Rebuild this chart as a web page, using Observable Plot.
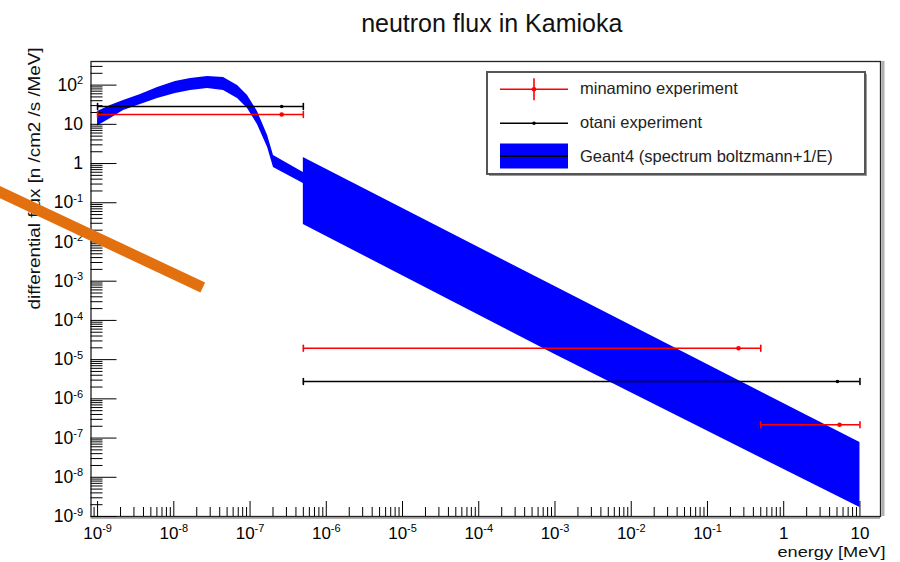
<!DOCTYPE html>
<html>
<head>
<meta charset="utf-8">
<script src="https://cdn.jsdelivr.net/npm/d3@7"></script>
<script src="https://cdn.jsdelivr.net/npm/@observablehq/plot@0.6"></script>
<style>
  html, body { margin: 0; padding: 0; background: #fff; }
  #wrap { position: relative; width: 900px; height: 562px; font-family: "Liberation Sans", Arial, sans-serif; }
  #legend { position: absolute; left: 0; top: 0; pointer-events: none; }
</style>
</head>
<body>
<div id="wrap"></div>
<script>
// ---------- texts ----------
const chartTitle = "neutron flux in Kamioka";
const xTitle = "energy [MeV]";
const yTitle = "differential flux [n /cm2 /s /MeV]";
const legendLabels = ["minamino experiment", "otani experiment", "Geant4 (spectrum boltzmann+1/E)"];

// ---------- axes ----------
const xDomain = [8.2e-10, 18.6];
const yDomain = [1e-9, 400];
const xTicks = [1e-9, 1e-8, 1e-7, 1e-6, 1e-5, 1e-4, 1e-3, 1e-2, 1e-1, 1, 10];
const xTickLabels = ["10^-9", "10^-8", "10^-7", "10^-6", "10^-5", "10^-4", "10^-3", "10^-2", "10^-1", "1", "10"];
const yTicks = [1e-9, 1e-8, 1e-7, 1e-6, 1e-5, 1e-4, 1e-3, 1e-2, 1e-1, 1, 10, 100];
const yTickLabels = ["10^-9", "10^-8", "10^-7", "10^-6", "10^-5", "10^-4", "10^-3", "10^-2", "10^-1", "1", "10", "10^2"];

// ---------- Geant4 band (energy [MeV], upper and lower flux) ----------
const g4Energy = [1e-9, 1.48e-9, 2.19e-9, 3.66e-9, 6.12e-9, 1.05e-8, 1.66e-8, 2.77e-8, 4.49e-8, 6.85e-8, 9.27e-8, 1.25e-7, 1.70e-7, 2.03e-7, 5e-7, 5e-7, 1e-3, 10];
const g4Upper  = [21.2, 30.1, 40.4, 57.5, 86.7, 123, 147, 165.6, 156, 97.5, 54.2, 21.2, 5.18, 1.60, 0.59, 1.42, 7.3e-4, 7.7e-8];
const g4Lower  = [9.0, 14.1, 22.5, 32.0, 45.5, 61.0, 72.8, 81.8, 72.8, 45.5, 25.3, 9.9, 2.56, 0.79, 0.31, 0.0279, 1.35e-5, 1.69e-9];

// ---------- minamino experiment ----------
const minaminoE     = [2.6e-7, 0.255, 5.4];
const minaminoELow  = [1e-9, 5e-7, 0.5];
const minaminoEHigh = [5e-7, 0.5, 10];
const minaminoFlux  = [17.8, 1.95e-5, 2.18e-7];

// ---------- otani experiment ----------
const otaniE     = [2.6e-7, 5.07];
const otaniELow  = [1e-9, 5e-7];
const otaniEHigh = [5e-7, 10];
const otaniFlux  = [28.4, 2.77e-6];

// ---------- orange annotation stroke ----------
const annotationE    = [4e-11, 2.4e-8];
const annotationFlux = [0.24, 6.9e-4];

// ---------- build tables ----------
const band = g4Energy.map((e, i) => ({e, lo: g4Lower[i], hi: g4Upper[i]}));
const minData = minaminoE.map((e, i) => ({e, lo: minaminoELow[i], hi: minaminoEHigh[i], f: minaminoFlux[i]}));
const otaData = otaniE.map((e, i) => ({e, lo: otaniELow[i], hi: otaniEHigh[i], f: otaniFlux[i]}));
const annotation = annotationE.map((e, i) => ({e, f: annotationFlux[i]}));

function minorTicks([lo, hi]) {
  const out = [];
  for (let p = -11; p <= 3; p++) for (let m = 2; m <= 9; m++) {
    const v = m * Math.pow(10, p);
    if (v > lo && v < hi) out.push(v);
  }
  return out;
}
const xMinor = minorTicks(xDomain);
const yMinor = minorTicks(yDomain);

const capShape = {draw(ctx, l) { ctx.moveTo(0, -l / 2); ctx.lineTo(0, l / 2); }};
const fmtX = d => xTickLabels[xTicks.indexOf(d)];
const fmtY = d => yTickLabels[yTicks.indexOf(d)];

function errorMarks(data, color, r) {
  return [
    Plot.ruleY(data, {y: "f", x1: "lo", x2: "hi", stroke: color, strokeWidth: 1.6}),
    Plot.vector(data, {x: "lo", y: "f", length: 6, anchor: "start", shape: capShape, stroke: color, strokeWidth: 1.6}),
    Plot.vector(data, {x: "hi", y: "f", length: 6, anchor: "start", shape: capShape, stroke: color, strokeWidth: 1.6}),
    Plot.dot(data, {x: "e", y: "f", r, fill: color, stroke: "none"})
  ];
}

const svg = Plot.plot({
  width: 900,
  height: 562,
  marginTop: 61,
  marginLeft: 90.5,
  marginRight: 20,
  marginBottom: 46,
  style: {fontFamily: "'Liberation Sans', Arial, sans-serif", background: "#fff", color: "#000"},
  x: {type: "log", domain: xDomain},
  y: {type: "log", domain: yDomain},
  marks: [
    Plot.areaY(band, {x: "e", y1: "lo", y2: "hi", fill: "#0000ff", curve: "linear"}),
    Plot.ruleX([xDomain[1]], {stroke: "#b0b0b0", strokeWidth: 3, dx: 2.5}),
    Plot.ruleY([yDomain[0]], {stroke: "#b0b0b0", strokeWidth: 2, dy: 1.5}),
    Plot.frame({stroke: "#222", strokeWidth: 1.3}),
    Plot.axisX(xMinor, {tickSize: 9, dy: -9, fill: "none", label: null}),
    Plot.axisX(xTicks, {tickSize: 15, dy: -15, fill: "none", label: null}),
    Plot.axisX(xTicks, {tickSize: 0, tickPadding: 10, stroke: "none", tickFormat: fmtX, fontSize: 17, label: null}),
    Plot.axisY(yMinor, {tickSize: 12, dx: 12, fill: "none", label: null}),
    Plot.axisY(yTicks, {tickSize: 26, dx: 26, fill: "none", label: null}),
    Plot.axisY(yTicks, {tickSize: 0, tickPadding: 8, stroke: "none", tickFormat: fmtY, fontSize: 17.5, label: null}),
    ...errorMarks(minData, "#ff0000", 2.3),
    ...errorMarks(otaData, "#000000", 1.8),
    Plot.text([chartTitle], {text: d => d, frameAnchor: "top", dx: 6, dy: -29.5, lineAnchor: "bottom", fontSize: 25, fill: "#111"}),
    Plot.text([yTitle], {text: d => d, frameAnchor: "top-left", rotate: -90, textAnchor: "end", lineAnchor: "bottom", dx: -51, dy: -14, fontSize: 16, fill: "#111"}),
    Plot.text([xTitle], {text: d => d, frameAnchor: "bottom-right", textAnchor: "end", lineAnchor: "bottom", dx: 5, dy: 40, fontSize: 15.5, fill: "#111"}),
    Plot.line(annotation, {x: "e", y: "f", stroke: "#e3700f", strokeWidth: 11, strokeLinecap: "butt"})
  ]
});

// superscript exponents on the tick labels (ROOT style 10^{n})
d3.select(svg).selectAll('g[aria-label$="tick label"] text').each(function () {
  const parts = this.textContent.split("^");
  if (parts.length === 2) {
    const t = d3.select(this);
    t.text(null);
    t.append("tspan").text(parts[0]);
    t.append("tspan").attr("font-size", 11).attr("dy", -6.5).text(parts[1]);
  }
});
// stretch the axis titles to the reference widths
d3.select(svg).selectAll("text").each(function () {
  if (this.textContent === xTitle) d3.select(this).attr("textLength", 108).attr("lengthAdjust", "spacingAndGlyphs");
  if (this.textContent === yTitle) d3.select(this).attr("textLength", 262).attr("lengthAdjust", "spacingAndGlyphs");
});

const wrap = document.getElementById("wrap");
wrap.appendChild(svg);

// ---------- legend box ----------
const leg = d3.create("svg").attr("id", "legend").attr("width", 900).attr("height", 562);
leg.append("rect").attr("x", 489).attr("y", 74).attr("width", 378).attr("height", 102).attr("fill", "#9a9a9a");
leg.append("rect").attr("x", 487).attr("y", 72).attr("width", 378).attr("height", 102)
  .attr("fill", "#fff").attr("stroke", "#555").attr("stroke-width", 2);
const rows = [89.3, 123.3, 156];
// red
leg.append("line").attr("x1", 500).attr("x2", 568).attr("y1", rows[0]).attr("y2", rows[0]).attr("stroke", "#ff0000").attr("stroke-width", 1.6);
leg.append("line").attr("x1", 534).attr("x2", 534).attr("y1", rows[0] - 11).attr("y2", rows[0] + 11).attr("stroke", "#ff0000").attr("stroke-width", 1.6);
leg.append("circle").attr("cx", 534).attr("cy", rows[0]).attr("r", 2.3).attr("fill", "#ff0000");
// black
leg.append("line").attr("x1", 500).attr("x2", 568).attr("y1", rows[1]).attr("y2", rows[1]).attr("stroke", "#000").attr("stroke-width", 1.6);
leg.append("circle").attr("cx", 534).attr("cy", rows[1]).attr("r", 1.8).attr("fill", "#000");
// blue band
leg.append("rect").attr("x", 500).attr("y", rows[2] - 12.5).attr("width", 68).attr("height", 25).attr("fill", "#0000ff");
leg.append("line").attr("x1", 500).attr("x2", 568).attr("y1", rows[2]).attr("y2", rows[2]).attr("stroke", "#000").attr("stroke-width", 2);
legendLabels.forEach((s, i) => {
  leg.append("text").attr("x", 580).attr("y", rows[i] + (i === 2 ? 6 : 4.8))
    .attr("font-family", "'Liberation Sans', Arial, sans-serif").attr("font-size", 16.5).attr("fill", "#222").text(s);
});
wrap.appendChild(leg.node());
</script>
</body>
</html>
